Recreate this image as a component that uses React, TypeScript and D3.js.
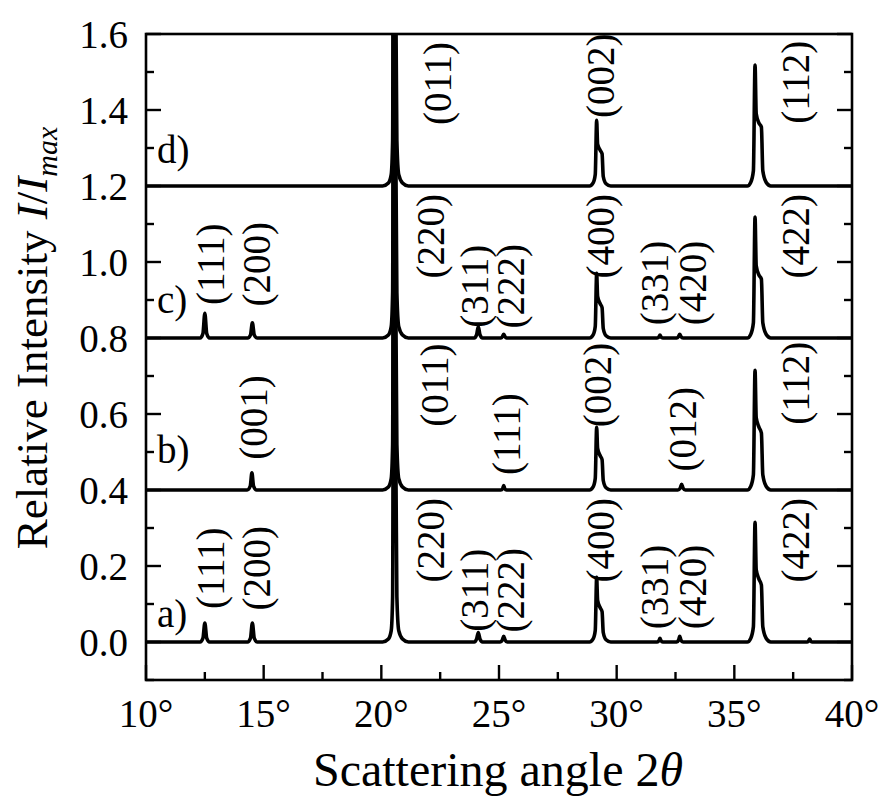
import React from 'react';
import * as d3 from 'd3';

// ---------- data ----------
const xTicksMajor = [10, 15, 20, 25, 30, 35, 40];
const xTicksMinor = [12.5, 17.5, 22.5, 27.5, 32.5, 37.5];
const yTicksMajor = [0.0, 0.2, 0.4, 0.6, 0.8, 1.0, 1.2, 1.4, 1.6];
const yTicksMinor = [-0.1, 0.1, 0.3, 0.5, 0.7, 0.9, 1.1, 1.3, 1.5];

const traceOffsets = [0.0, 0.4, 0.8, 1.2];
const traceNames = ['a)', 'b)', 'c)', 'd)'];

const traceA: [number, number][] = [
  [10, 0], [12.3, 0], [12.42, 0.01], [12.5, 0.05], [12.58, 0.01], [12.7, 0],
  [14.32, 0], [14.44, 0.01], [14.52, 0.05], [14.6, 0.01], [14.72, 0],
  [20.05, 0], [20.3, 0.008], [20.42, 0.03], [20.48, 0.12], [20.52, 1.0], [20.56, 0.55], [20.62, 0.45], [20.66, 0.12], [20.74, 0.03], [20.9, 0.008], [21.15, 0],
  [23.95, 0], [24.05, 0.008], [24.12, 0.025], [24.19, 0.008], [24.3, 0],
  [25.05, 0], [25.14, 0.005], [25.2, 0.015], [25.26, 0.005], [25.35, 0],
  [28.85, 0], [29.0, 0.008], [29.09, 0.03], [29.15, 0.17], [29.19, 0.11], [29.3, 0.09], [29.38, 0.08], [29.43, 0.025], [29.55, 0.006], [29.75, 0],
  [31.72, 0], [31.8, 0.004], [31.84, 0.01], [31.88, 0.004], [31.96, 0],
  [32.55, 0], [32.63, 0.005], [32.68, 0.015], [32.73, 0.005], [32.82, 0],
  [35.55, 0], [35.7, 0.01], [35.81, 0.04], [35.88, 0.315], [35.93, 0.19], [36.05, 0.165], [36.15, 0.15], [36.21, 0.04], [36.35, 0.01], [36.55, 0],
  [38.1, 0], [38.16, 0.003], [38.2, 0.008], [38.24, 0.003], [38.3, 0],
  [40, 0],
];

const traceB: [number, number][] = [
  [10, 0], [14.3, 0], [14.43, 0.01], [14.5, 0.045], [14.57, 0.01], [14.7, 0],
  [20.05, 0], [20.3, 0.008], [20.42, 0.03], [20.48, 0.12], [20.52, 1.0], [20.56, 0.55], [20.62, 0.45], [20.66, 0.12], [20.74, 0.03], [20.9, 0.008], [21.15, 0],
  [25.08, 0], [25.16, 0.004], [25.2, 0.012], [25.24, 0.004], [25.32, 0],
  [28.85, 0], [29.0, 0.008], [29.09, 0.03], [29.15, 0.165], [29.19, 0.11], [29.3, 0.09], [29.38, 0.08], [29.43, 0.025], [29.55, 0.006], [29.75, 0],
  [32.6, 0], [32.7, 0.005], [32.76, 0.015], [32.82, 0.005], [32.92, 0],
  [35.55, 0], [35.7, 0.01], [35.81, 0.04], [35.88, 0.315], [35.93, 0.19], [36.05, 0.165], [36.15, 0.15], [36.21, 0.04], [36.35, 0.01], [36.55, 0],
  [40, 0],
];

const traceC: [number, number][] = [
  [10, 0], [12.3, 0], [12.42, 0.012], [12.5, 0.065], [12.58, 0.012], [12.7, 0],
  [14.32, 0], [14.44, 0.008], [14.52, 0.04], [14.6, 0.008], [14.72, 0],
  [20.05, 0], [20.3, 0.008], [20.42, 0.03], [20.48, 0.12], [20.52, 1.0], [20.56, 0.55], [20.62, 0.45], [20.66, 0.12], [20.74, 0.03], [20.9, 0.008], [21.15, 0],
  [23.95, 0], [24.05, 0.009], [24.12, 0.03], [24.19, 0.009], [24.3, 0],
  [25.08, 0], [25.15, 0.004], [25.2, 0.01], [25.25, 0.004], [25.32, 0],
  [28.85, 0], [29.0, 0.008], [29.09, 0.03], [29.15, 0.17], [29.19, 0.11], [29.3, 0.09], [29.38, 0.08], [29.43, 0.025], [29.55, 0.006], [29.75, 0],
  [31.72, 0], [31.8, 0.003], [31.84, 0.008], [31.88, 0.003], [31.96, 0],
  [32.55, 0], [32.63, 0.004], [32.68, 0.01], [32.73, 0.004], [32.82, 0],
  [35.55, 0], [35.7, 0.01], [35.81, 0.04], [35.88, 0.318], [35.93, 0.19], [36.05, 0.165], [36.15, 0.155], [36.21, 0.04], [36.35, 0.01], [36.55, 0],
  [40, 0],
];

const traceD: [number, number][] = [
  [10, 0],
  [20.05, 0], [20.3, 0.008], [20.42, 0.03], [20.48, 0.12], [20.52, 1.0], [20.56, 0.55], [20.62, 0.45], [20.66, 0.12], [20.74, 0.03], [20.9, 0.008], [21.15, 0],
  [28.85, 0], [29.0, 0.008], [29.09, 0.03], [29.15, 0.173], [29.19, 0.11], [29.3, 0.094], [29.38, 0.085], [29.43, 0.025], [29.55, 0.006], [29.75, 0],
  [35.55, 0], [35.7, 0.01], [35.81, 0.04], [35.88, 0.318], [35.93, 0.19], [36.05, 0.165], [36.15, 0.155], [36.21, 0.04], [36.35, 0.01], [36.55, 0],
  [40, 0],
];

const traces = [traceA, traceB, traceC, traceD];

// peak labels: [text, angle, absolute intensity of label centre]
const peakLabels: [string, number, number][] = [
  ['(111)', 12.72, 0.194], ['(200)', 14.67, 0.194], ['(220)', 22.1, 0.268],
  ['(311)', 23.94, 0.136], ['(222)', 25.47, 0.136], ['(400)', 29.29, 0.268],
  ['(331)', 31.6, 0.145], ['(420)', 33.2, 0.145], ['(422)', 37.58, 0.268],
  ['(001)', 14.55, 0.591], ['(011)', 22.24, 0.676], ['(111)', 25.3, 0.547],
  ['(002)', 29.17, 0.676], ['(012)', 32.78, 0.56], ['(112)', 37.58, 0.681],
  ['(111)', 12.72, 0.994], ['(200)', 14.67, 0.994], ['(220)', 22.1, 1.068],
  ['(311)', 23.94, 0.936], ['(222)', 25.47, 0.936], ['(400)', 29.29, 1.068],
  ['(331)', 31.6, 0.945], ['(420)', 33.2, 0.945], ['(422)', 37.58, 1.068],
  ['(011)', 22.37, 1.47], ['(002)', 29.29, 1.49], ['(112)', 37.58, 1.473],
];

// trace letter labels: [angle, intensity of baseline of text]
const traceLabelPos: [number, number][] = [[10.47, 0.04], [10.47, 0.07], [10.47, 0.065], [10.47, 0.06]];

// ---------- chart ----------
const W = 881;
const H = 801;
const L = 146, R = 852, T = 34, B = 680;
const FONT = '"Liberation Serif", "Times New Roman", Times, serif';

export default function App() {
  const x = d3.scaleLinear().domain([10, 40]).range([L, R]);
  const y = d3.scaleLinear().domain([-0.1, 1.6]).range([B, T]);

  const lines = traces.map((tr, i) =>
    d3
      .line<[number, number]>()
      .x((d) => x(d[0]))
      .y((d) => y(d[1] + traceOffsets[i]))
      .curve(d3.curveMonotoneX)(tr) as string
  );

  const majorLen = 15;
  const minorLen = 8;

  return (
    <svg
      width={W}
      height={H}
      viewBox={`0 0 ${W} ${H}`}
      style={{ position: 'absolute', left: 0, top: 0, background: '#fff' }}
      fontFamily={FONT}
    >
      <defs>
        <clipPath id="plotclip">
          <rect x={L} y={T} width={R - L} height={B - T} />
        </clipPath>
      </defs>
      <rect x={0} y={0} width={W} height={H} fill="#fff" />

      {/* traces */}
      <g clipPath="url(#plotclip)">
        {lines.map((d, i) => (
          <path key={i} d={d} fill="none" stroke="#000" strokeWidth={3.6} strokeLinejoin="round" />
        ))}
      </g>

      {/* frame */}
      <rect x={L} y={T} width={R - L} height={B - T} fill="none" stroke="#000" strokeWidth={2.6} />

      {/* x ticks */}
      {xTicksMajor.map((t) => (
        <line key={'xM' + t} x1={x(t)} x2={x(t)} y1={B} y2={B - majorLen} stroke="#000" strokeWidth={2.4} />
      ))}
      {xTicksMinor.map((t) => (
        <line key={'xm' + t} x1={x(t)} x2={x(t)} y1={B} y2={B - minorLen} stroke="#000" strokeWidth={2.4} />
      ))}
      {xTicksMajor.map((t) => (
        <text key={'xl' + t} x={x(t)} y={727} textAnchor="middle" fontSize={39}>
          {t}°
        </text>
      ))}

      {/* y ticks left & right */}
      {yTicksMajor.map((t) => (
        <g key={'yM' + t}>
          <line x1={L} x2={L + majorLen} y1={y(t)} y2={y(t)} stroke="#000" strokeWidth={2.4} />
          <line x1={R} x2={R - majorLen} y1={y(t)} y2={y(t)} stroke="#000" strokeWidth={2.4} />
          <text x={128} y={y(t)} dy="0.35em" textAnchor="end" fontSize={39}>
            {t.toFixed(1)}
          </text>
        </g>
      ))}
      {yTicksMinor.map((t) => (
        <g key={'ym' + t}>
          <line x1={L} x2={L + minorLen} y1={y(t)} y2={y(t)} stroke="#000" strokeWidth={2.4} />
          <line x1={R} x2={R - minorLen} y1={y(t)} y2={y(t)} stroke="#000" strokeWidth={2.4} />
        </g>
      ))}

      {/* peak labels */}
      {peakLabels.map(([txt, a, v], i) => (
        <text
          key={'pl' + i}
          transform={`translate(${x(a)},${y(v)}) rotate(-90)`}
          textAnchor="middle"
          dy="0.35em"
          fontSize={39}
        >
          {txt}
        </text>
      ))}

      {/* trace letters */}
      {traceNames.map((n, i) => (
        <text
          key={'tn' + i}
          x={x(traceLabelPos[i][0])}
          y={y(traceOffsets[i] + traceLabelPos[i][1])}
          fontSize={39}
        >
          {n}
        </text>
      ))}

      {/* axis titles */}
      <text x={498} y={786} textAnchor="middle" fontSize={48}>
        Scattering angle 2<tspan fontStyle="italic">θ</tspan>
      </text>
      <text transform={`translate(47,338) rotate(-90)`} textAnchor="middle" fontSize={45}>
        Relative Intensity <tspan fontStyle="italic">I</tspan>
        <tspan>/</tspan>
        <tspan fontStyle="italic">I</tspan>
        <tspan fontStyle="italic" fontSize={30} dy={10}>
          max
        </tspan>
      </text>
    </svg>
  );
}
